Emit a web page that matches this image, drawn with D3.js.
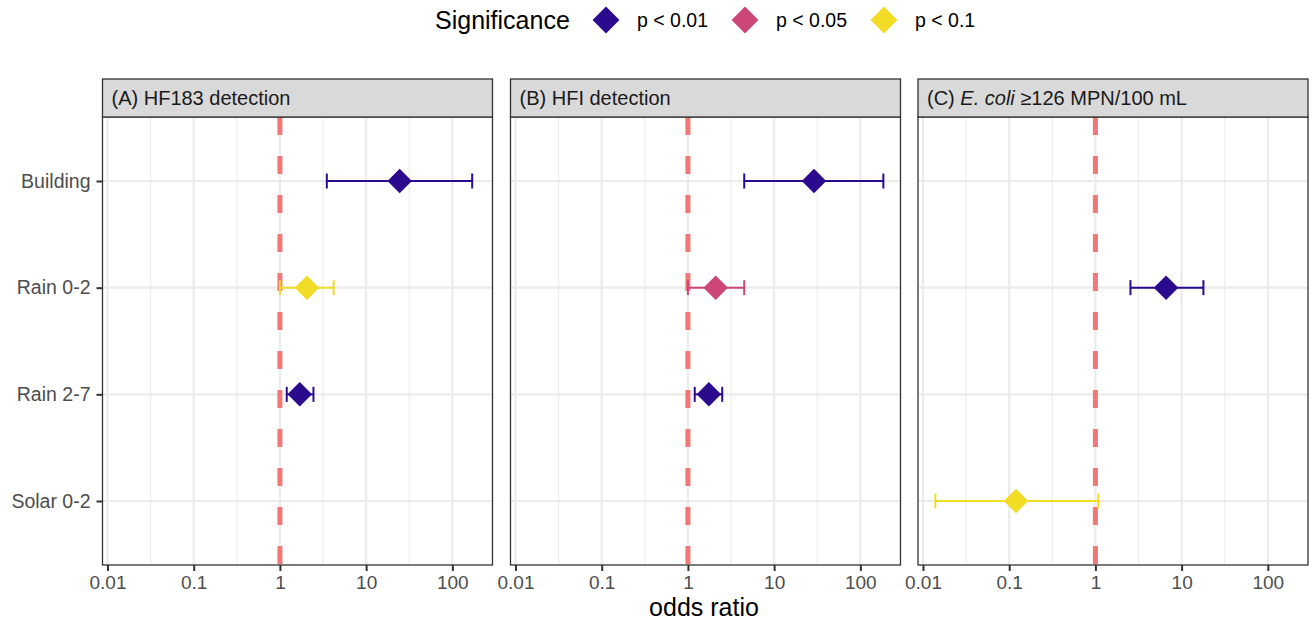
<!DOCTYPE html>
<html>
<head>
<meta charset="utf-8">
<script src="https://cdn.jsdelivr.net/npm/d3@7"></script>
<style>
  html, body { margin: 0; padding: 0; background: #ffffff; }
  text { font-family: "Liberation Sans", Arial, Helvetica, sans-serif; }
</style>
</head>
<body>
<svg id="chart" width="1314" height="627"></svg>
<script>
// ---- data ----
const categories = ["Building", "Rain 0-2", "Rain 2-7", "Solar 0-2"];
const panels = ["A", "B", "C"];
const sigLevels = ["p < 0.01", "p < 0.05", "p < 0.1"];
const sigColors = ["#2c0a8e", "#cc4678", "#f2dc26"];
const xTickValues = [0.01, 0.1, 1, 10, 100];
const xTickLabels = ["0.01", "0.1", "1", "10", "100"];

const rowPanel = ["A", "A", "A", "B", "B", "B", "C", "C"];
const rowTerm  = ["Building", "Rain 0-2", "Rain 2-7", "Building", "Rain 0-2", "Rain 2-7", "Rain 0-2", "Solar 0-2"];
const rowEst   = [24.5, 2.06, 1.7, 29, 2.1, 1.75, 6.6, 0.12];
const rowLo    = [3.5, 1.0, 1.2, 4.5, 1.0, 1.2, 2.55, 0.0139];
const rowHi    = [170, 4.2, 2.45, 185, 4.5, 2.5, 17.9, 1.08];
const rowSig   = ["p < 0.01", "p < 0.1", "p < 0.01", "p < 0.01", "p < 0.05", "p < 0.01", "p < 0.01", "p < 0.1"];

const rows = rowPanel.map((p, i) => ({
  panel: p, term: rowTerm[i], est: rowEst[i], lo: rowLo[i], hi: rowHi[i], sig: rowSig[i]
}));

// ---- layout ----
const svg = d3.select("#chart");
const panelLeft = { A: 102.5, B: 510.5, C: 918 };
const panelW = 390;
const stripTop = 79, panelTop = 117, panelBottom = 565;

const color = d3.scaleOrdinal().domain(sigLevels).range(sigColors);
const y = d3.scalePoint().domain(categories).range([panelTop, panelBottom]).padding(0.6);
const diamondSym = d3.symbol().type(d3.symbolSquare).size(300);
const legendSym = d3.symbol().type(d3.symbolSquare).size(360);

const stripLabels = {
  A: [{t: "(A) HF183 detection"}],
  B: [{t: "(B) HFI detection"}],
  C: [{t: "(C) "}, {t: "E. coli", it: true}, {t: " \u2265126 MPN/100 mL"}]
};

panels.forEach(p => {
  const x0 = panelLeft[p];
  const x = d3.scaleLog().domain([Math.pow(10, -2.058), Math.pow(10, 2.466)]).range([x0, x0 + panelW]);
  const g = svg.append("g");

  g.append("rect").attr("x", x0).attr("y", panelTop).attr("width", panelW)
    .attr("height", panelBottom - panelTop).attr("fill", "#ffffff");

  // minor grid
  const minor = [-2, -1, 0, 1, 2].map(k => Math.pow(10, k + 0.5)).filter(v => x(v) < x0 + panelW);
  g.selectAll(".minor").data(minor).enter().append("line")
    .attr("x1", d => x(d)).attr("x2", d => x(d))
    .attr("y1", panelTop).attr("y2", panelBottom)
    .attr("stroke", "#ebebeb").attr("stroke-width", 1.1);
  // major grid
  g.selectAll(".majorx").data(xTickValues).enter().append("line")
    .attr("x1", d => x(d)).attr("x2", d => x(d))
    .attr("y1", panelTop).attr("y2", panelBottom)
    .attr("stroke", "#ebebeb").attr("stroke-width", 2.2);
  g.selectAll(".majory").data(categories).enter().append("line")
    .attr("x1", x0).attr("x2", x0 + panelW)
    .attr("y1", d => y(d)).attr("y2", d => y(d))
    .attr("stroke", "#ebebeb").attr("stroke-width", 2.2);

  // reference line at 1
  g.append("line").attr("x1", x(1)).attr("x2", x(1))
    .attr("y1", panelTop).attr("y2", panelBottom)
    .attr("stroke", "#f47777").attr("stroke-width", 5)
    .attr("stroke-dasharray", "18,21");

  // error bars
  const data = rows.filter(r => r.panel === p);
  const eb = g.selectAll(".eb").data(data).enter().append("g");
  eb.append("line").attr("x1", d => x(d.lo)).attr("x2", d => x(d.hi))
    .attr("y1", d => y(d.term)).attr("y2", d => y(d.term))
    .attr("stroke", d => color(d.sig)).attr("stroke-width", 2);
  eb.append("line").attr("x1", d => x(d.lo)).attr("x2", d => x(d.lo))
    .attr("y1", d => y(d.term) - 7.5).attr("y2", d => y(d.term) + 7.5)
    .attr("stroke", d => color(d.sig)).attr("stroke-width", 2);
  eb.append("line").attr("x1", d => x(d.hi)).attr("x2", d => x(d.hi))
    .attr("y1", d => y(d.term) - 7.5).attr("y2", d => y(d.term) + 7.5)
    .attr("stroke", d => color(d.sig)).attr("stroke-width", 2);
  eb.append("path").attr("d", diamondSym)
    .attr("transform", d => `translate(${x(d.est)},${y(d.term)}) rotate(45)`)
    .attr("fill", d => color(d.sig));

  // panel border
  g.append("rect").attr("x", x0).attr("y", panelTop).attr("width", panelW)
    .attr("height", panelBottom - panelTop).attr("fill", "none")
    .attr("stroke", "#333333").attr("stroke-width", 1.3);

  // strip
  g.append("rect").attr("x", x0).attr("y", stripTop).attr("width", panelW)
    .attr("height", panelTop - stripTop).attr("fill", "#d9d9d9")
    .attr("stroke", "#333333").attr("stroke-width", 1.3);
  const st = g.append("text").attr("x", x0 + 9).attr("y", stripTop + 26)
    .attr("font-size", 20).attr("fill", "#1a1a1a");
  stripLabels[p].forEach(s => {
    st.append("tspan").text(s.t).attr("font-style", s.it ? "italic" : null);
  });

  // x axis
  const xAxis = d3.axisBottom(x).tickValues(xTickValues)
    .tickFormat((d, i) => xTickLabels[i]).tickSize(6).tickPadding(5);
  const ax = g.append("g").attr("transform", `translate(0,${panelBottom})`).call(xAxis);
  ax.select(".domain").remove();
  ax.selectAll(".tick line").attr("stroke", "#333333").attr("stroke-width", 2);
  ax.selectAll(".tick text").attr("font-size", 19).attr("fill", "#4d4d4d")
    .attr("font-family", "'Liberation Sans', Arial, sans-serif");

  if (p === "A") {
    const yAxis = d3.axisLeft(y).tickSize(6).tickPadding(6);
    const ay = g.append("g").attr("transform", `translate(${x0},0)`).call(yAxis);
    ay.select(".domain").remove();
    ay.selectAll(".tick line").attr("stroke", "#333333").attr("stroke-width", 2);
    ay.selectAll(".tick text").attr("font-size", 19.5).attr("fill", "#4d4d4d")
      .attr("font-family", "'Liberation Sans', Arial, sans-serif");
  }
});

// axis title
svg.append("text").attr("x", 704).attr("y", 616).attr("text-anchor", "middle")
  .attr("font-size", 25).attr("fill", "#000").text("odds ratio");

// legend
const lg = svg.append("g");
lg.append("text").attr("x", 435).attr("y", 29).attr("font-size", 25).attr("fill", "#000")
  .text("Significance");
const legendX = [606, 745, 884];
sigLevels.forEach((s, i) => {
  lg.append("path").attr("d", legendSym)
    .attr("transform", `translate(${legendX[i]},20) rotate(45)`)
    .attr("fill", color(s));
  lg.append("text").attr("x", legendX[i] + 31).attr("y", 27).attr("font-size", 19.5)
    .attr("fill", "#000").text(s);
});
</script>
</body>
</html>
